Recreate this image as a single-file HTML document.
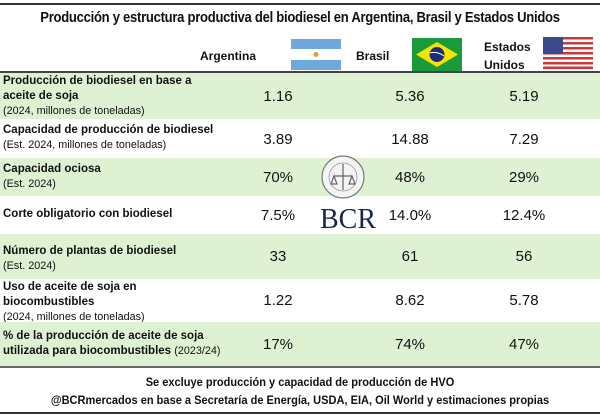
<!DOCTYPE html>
<html><head><meta charset="utf-8"><style>
body{margin:0;background:#fff;width:600px;height:417px;position:relative;overflow:hidden;font-family:"Liberation Sans",sans-serif;color:#111}
.a{position:absolute}
.row{position:absolute;left:0;width:600px}
.g{background:#def2d3}
.lb{position:absolute;left:3px;font-size:11.5px;font-weight:bold;line-height:15px}
.sb{font-weight:normal;font-size:10.8px}
.v{position:absolute;font-size:15px;width:80px;text-align:center}
.h{position:absolute;font-size:12px;font-weight:bold;line-height:18px}
</style></head><body>
<div class="a" style="left:0;top:3px;width:600px;height:2px;background:#333"></div>
<div class="a" style="left:0;top:10px;width:600px;text-align:center;font-size:14.5px;font-weight:bold;letter-spacing:-0.3px;transform:scaleX(0.9);transform-origin:300px 0">Producción y estructura productiva del biodiesel en Argentina, Brasil y Estados Unidos</div>
<div class="h" style="left:200px;top:47px">Argentina</div>
<svg class="a" style="left:291px;top:39px" width="50" height="31"><rect width="50" height="31" fill="#fff"/><rect width="50" height="10" fill="#6fa8dc"/><rect y="21" width="50" height="10" fill="#6fa8dc"/><circle cx="25" cy="15.5" r="2.5" fill="#e0a040"/></svg>
<div class="h" style="left:356px;top:47px">Brasil</div>
<svg class="a" style="left:412px;top:38px" width="50" height="33"><rect width="50" height="33" fill="#1a9a3a"/><polygon points="25,4 46,16.5 25,29 4,16.5" fill="#f4e400"/><circle cx="25" cy="16.5" r="7.5" fill="#1b2e7a"/><path d="M18 15 Q25 13 32 18" stroke="#fff" stroke-width="1" fill="none"/></svg>
<div class="h" style="left:484px;top:38px">Estados<br>Unidos</div>
<svg class="a" style="left:543px;top:37px" width="50" height="32"><rect width="50" height="32" fill="#fff"/><g fill="#c83a3a"><rect y="0" width="50" height="2.5"/><rect y="5" width="50" height="2.5"/><rect y="10" width="50" height="2.5"/><rect y="15" width="50" height="2.5"/><rect y="20" width="50" height="2.5"/><rect y="25" width="50" height="2.5"/><rect y="29.5" width="50" height="2.5"/></g><rect width="20" height="17" fill="#3a4a8a"/></svg>
<div class="a" style="left:0;top:71px;width:600px;height:2px;background:#444"></div>

<div class="row g" style="top:73px;height:46px"><div class="lb" style="top:1px">Producción de biodiesel en base a<br>aceite de soja<br><span class="sb">(2024, millones de toneladas)</span></div></div>
<div class="row" style="top:119px;height:39px"><div class="lb" style="top:4px">Capacidad de producción de biodiesel<br><span class="sb">(Est. 2024, millones de toneladas)</span></div></div>
<div class="row g" style="top:158px;height:38px"><div class="lb" style="top:4px">Capacidad ociosa<br><span class="sb">(Est. 2024)</span></div></div>
<div class="row" style="top:196px;height:38px"><div class="lb" style="top:11px">Corte obligatorio con biodiesel</div></div>
<div class="row g" style="top:234px;height:45px"><div class="lb" style="top:10px">Número de plantas de biodiesel<br><span class="sb">(Est. 2024)</span></div></div>
<div class="row" style="top:279px;height:43px"><div class="lb" style="top:1px">Uso de aceite de soja en<br>biocombustibles<br><span class="sb">(2024, millones de toneladas)</span></div></div>
<div class="row g" style="top:322px;height:44px"><div class="lb" style="top:7px">% de la producción de aceite de soja<br>utilizada para biocombustibles <span class="sb">(2023/24)</span></div></div>
<div class="a" style="left:0;top:366px;width:600px;height:2px;background:#666"></div>

<svg class="a" style="left:320px;top:154px" width="46" height="46"><circle cx="23" cy="23" r="21" fill="#f4f4f4" stroke="#777" stroke-width="1.2"/><circle cx="23" cy="23" r="14" fill="none" stroke="#999" stroke-width="0.8"/><path d="M23 10 V36 M14 22 H32 M14 22 L11 30 H17 Z M32 22 L29 30 H35 Z" stroke="#666" stroke-width="1.2" fill="none"/></svg>
<div class="a" style="left:320px;top:204px;font-family:'Liberation Serif',serif;font-size:28px;color:#1c2647">BCR</div>

<div class="v" style="left:238px;top:88px">1.16</div><div class="v" style="left:370px;top:88px">5.36</div><div class="v" style="left:484px;top:88px">5.19</div>
<div class="v" style="left:238px;top:131px">3.89</div><div class="v" style="left:370px;top:131px">14.88</div><div class="v" style="left:484px;top:131px">7.29</div>
<div class="v" style="left:238px;top:169px">70%</div><div class="v" style="left:370px;top:169px">48%</div><div class="v" style="left:484px;top:169px">29%</div>
<div class="v" style="left:238px;top:207px">7.5%</div><div class="v" style="left:370px;top:207px">14.0%</div><div class="v" style="left:484px;top:207px">12.4%</div>
<div class="v" style="left:238px;top:248px">33</div><div class="v" style="left:370px;top:248px">61</div><div class="v" style="left:484px;top:248px">56</div>
<div class="v" style="left:238px;top:292px">1.22</div><div class="v" style="left:370px;top:292px">8.62</div><div class="v" style="left:484px;top:292px">5.78</div>
<div class="v" style="left:238px;top:336px">17%</div><div class="v" style="left:370px;top:336px">74%</div><div class="v" style="left:484px;top:336px">47%</div>

<div class="a" style="left:0;top:374px;width:600px;text-align:center;font-size:11.5px;font-weight:bold;line-height:18px;transform:scaleX(0.96);transform-origin:300px 0">Se excluye producción y capacidad de producción de HVO<br>@BCRmercados en base a Secretaría de Energía, USDA, EIA, Oil World y estimaciones propias</div>
<div class="a" style="left:0;top:412px;width:600px;height:2px;background:#333"></div>
</body></html>
